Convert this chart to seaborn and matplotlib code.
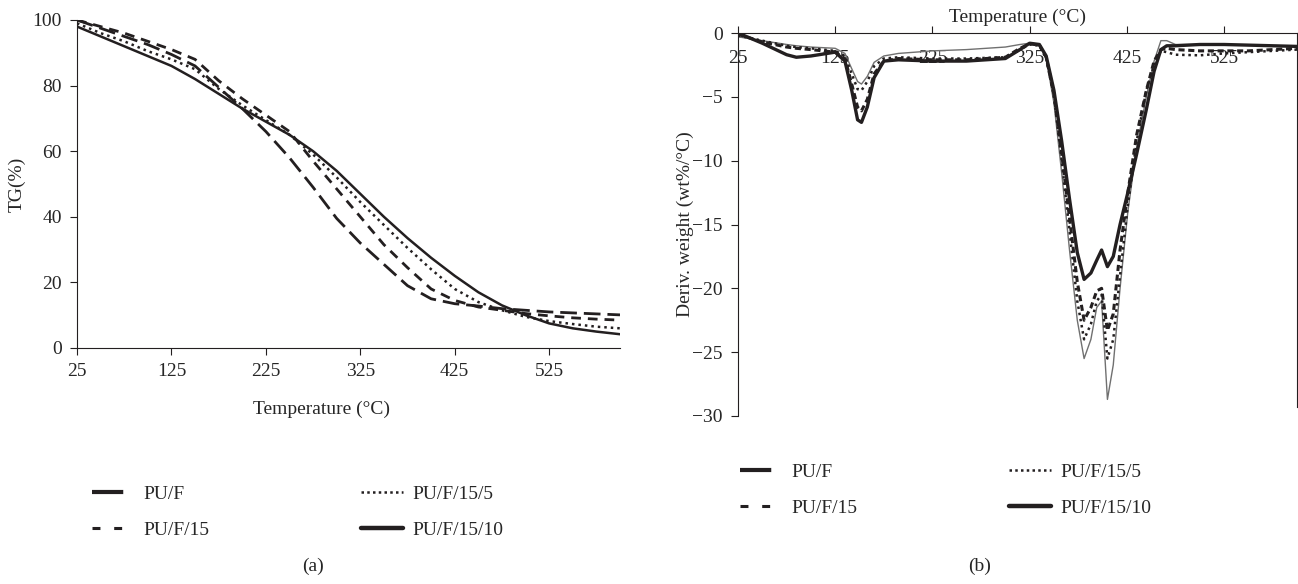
import matplotlib.pyplot as plt
from matplotlib.lines import Line2D
import seaborn as sns

# ---- TG curves (panel a) ----
tg_temp = [25, 50, 75, 100, 125, 150, 175, 200, 225, 250, 275, 300,
           325, 350, 375, 400, 425, 450, 475, 500, 525, 550, 575, 600]
tg_puf = [100, 97.5, 95, 92.5, 89.5, 86, 79.5, 73, 66, 58, 49, 39.5,
          32, 25.5, 19, 15, 13.5, 12.8, 12, 11.5, 11, 10.7, 10.4, 10.1]
tg_puf15 = [100, 98, 96, 93.5, 91, 88, 81.5, 76, 71, 66, 57, 48.5,
            40, 31.5, 24.5, 18, 14.5, 12.5, 11.5, 10.5, 9.8, 9.2, 8.8, 8.5]
tg_puf15_5 = [99, 96, 93.5, 90.5, 88, 85, 79, 74, 69.5, 65, 59, 52,
              44.5, 37.5, 30.5, 24, 18, 14, 11.5, 9.5, 8.2, 7.3, 6.5, 6]
tg_puf15_10 = [98, 95, 92, 89, 86, 82, 77.5, 73, 69, 65, 60, 54,
               47, 40, 33.5, 27.5, 22, 17, 13, 10, 7.5, 6, 5, 4.2]

# ---- DTG curves (panel b) ----
dtg_temp = [25, 50, 75, 85, 100, 125, 135, 142, 148, 152, 158, 165, 175, 190,
            225, 260, 300, 315, 325, 335, 342, 350, 358, 366, 374, 381, 388,
            394, 399, 405, 411, 418, 426, 435, 445, 453, 460, 466, 475, 500,
            525, 550, 575, 600]
dtg_puf = [-0.3, -0.6, -0.9, -1.0, -1.1, -1.2, -1.6, -2.8, -3.8, -4.0, -3.4,
           -2.3, -1.8, -1.6, -1.4, -1.3, -1.1, -0.9, -0.8, -0.9, -2.0, -5.5,
           -11, -17, -22.5, -25.5, -24, -21.5, -21.0, -28.7, -26, -20, -14,
           -9, -5, -2.2, -0.6, -0.6, -0.9, -0.9, -0.9, -0.95, -1.0, -1.0]
dtg_puf15 = [-0.1, -0.7, -1.1, -1.2, -1.3, -1.5, -2.0, -4.0, -5.8, -6.1, -5.2,
             -3.2, -2.2, -2.0, -2.1, -2.1, -1.9, -1.2, -0.85, -0.95, -1.9,
             -4.8, -9.5, -14.5, -19.5, -22.5, -21.5, -20.2, -20, -23.3, -22,
             -17, -12.5, -8, -4.5, -2.2, -1.3, -1.2, -1.3, -1.4, -1.4, -1.4,
             -1.3, -1.2]
dtg_puf15_5 = [-0.2, -0.6, -1.0, -1.1, -1.2, -1.4, -1.8, -3.2, -4.4, -4.5,
               -3.8, -2.6, -2.0, -1.9, -2.0, -2.0, -1.9, -1.3, -0.9, -1.0,
               -2.0, -5, -10, -15.5, -21, -24, -22.8, -21, -20.5, -25.5, -24,
               -19, -13.5, -8.5, -4.5, -2.5, -1.4, -1.5, -1.7, -1.75, -1.6,
               -1.5, -1.4, -1.3]
dtg_puf15_10 = [0, -0.8, -1.7, -1.9, -1.8, -1.5, -2.2, -4.5, -6.8, -7.0, -5.8,
                -3.5, -2.2, -2.1, -2.2, -2.2, -2.0, -1.3, -0.8, -0.9, -1.8,
                -4.5, -8.5, -13, -17.2, -19.3, -18.8, -17.8, -17.0, -18.3,
                -17.5, -15, -12.5, -9.5, -6, -3, -1.3, -1.0, -1.0, -0.9, -0.9,
                -0.95, -1.0, -1.05]

labels = ['PU/F', 'PU/F/15', 'PU/F/15/5', 'PU/F/15/10']
temp_ticks = [25, 125, 225, 325, 425, 525]

sns.set_style('ticks')
plt.rcParams['font.family'] = ['Liberation Serif', 'DejaVu Serif']
plt.rcParams['font.size'] = 14
ink = '#231f20'

W, H = 1298, 584
fig = plt.figure(figsize=(W / 100, H / 100), dpi=100)
ax1 = fig.add_axes([77 / W, 1 - 348 / H, (620 - 77) / W, (348 - 20) / H])
ax2 = fig.add_axes([738 / W, 1 - 416 / H, (1297 - 738) / W, (416 - 33) / H])

# panel a
tg_series = [tg_puf, tg_puf15, tg_puf15_5, tg_puf15_10]
tg_styles = [dict(lw=2.0, ls=(0, (6, 2.5))),
             dict(lw=2.0, ls=(0, (3.5, 2.5))),
             dict(lw=1.8, ls=(0, (1, 1.6))),
             dict(lw=1.8, ls='-')]
for vals, st in zip(tg_series, tg_styles):
    sns.lineplot(x=tg_temp, y=vals, ax=ax1, color=ink,
                 linewidth=st['lw'], linestyle=st['ls'])

ax1.set_xlim(25, 600)
ax1.set_ylim(0, 100)
ax1.set_xticks(temp_ticks)
ax1.set_yticks(range(0, 101, 20))
ax1.set_xlabel('Temperature (°C)')
ax1.xaxis.set_label_coords(0.45, -0.16)
ax1.set_ylabel('TG(%)')
ax1.yaxis.set_label_coords(-0.094, 0.5)
sns.despine(ax=ax1)
ax1.tick_params(direction='out', length=5, color=ink, pad=6)
for s in ax1.spines.values():
    s.set_color(ink)

# panel b
dtg_series = [dtg_puf, dtg_puf15, dtg_puf15_5, dtg_puf15_10]
dtg_styles = [dict(lw=1.0, ls='-', c='#707070'),
              dict(lw=2.2, ls=(0, (2, 1.2)), c=ink),
              dict(lw=1.8, ls=(0, (1, 1.5)), c=ink),
              dict(lw=2.4, ls='-', c=ink)]
for vals, st in zip(dtg_series, dtg_styles):
    sns.lineplot(x=dtg_temp, y=vals, ax=ax2, color=st['c'],
                 linewidth=st['lw'], linestyle=st['ls'])

ax2.set_xlim(25, 600)
ax2.set_ylim(-30, 0)
ax2.set_xticks(temp_ticks)
ax2.set_yticks(range(-30, 1, 5))
ax2.xaxis.tick_top()
ax2.tick_params(axis='x', direction='out', length=5, color=ink, pad=-29.5)
ax2.tick_params(axis='y', direction='out', length=5, color=ink, pad=6)
ax2.spines['bottom'].set_visible(False)
ax2.spines['right'].set_bounds(-29.3, 0)
for s in ax2.spines.values():
    s.set_color(ink)
ax2.set_xlabel('Temperature (°C)')
ax2.xaxis.set_label_position('top')
ax2.xaxis.set_label_coords(0.5, 1.03)
ax2.set_ylabel('Deriv. weight (wt%/°C)')
ax2.yaxis.set_label_coords(-0.079, 0.5)

# legends
handles = [Line2D([], [], color=ink, lw=3, linestyle=(0, (7.5, 10))),
           Line2D([], [], color=ink, lw=2.2, linestyle=(0, (2.6, 4.5))),
           Line2D([], [], color=ink, lw=1.8, linestyle=(0, (1, 1.3))),
           Line2D([], [], color=ink, lw=3.2, linestyle='-')]
leg_kw = dict(ncol=2, loc='upper left', frameon=False, handlelength=2.15,
              handletextpad=0.5, columnspacing=7.8, labelspacing=0.95,
              borderpad=0, borderaxespad=0)
fig.legend(handles, labels, bbox_to_anchor=(92 / W, 1 - 485 / H), **leg_kw)
fig.legend(handles, labels, bbox_to_anchor=(740 / W, 1 - 463 / H), **leg_kw)

fig.text(313 / W, 1 - 566 / H, '(a)', ha='center', va='center')
fig.text(980 / W, 1 - 566 / H, '(b)', ha='center', va='center')

fig.savefig('out.png', dpi=100)
